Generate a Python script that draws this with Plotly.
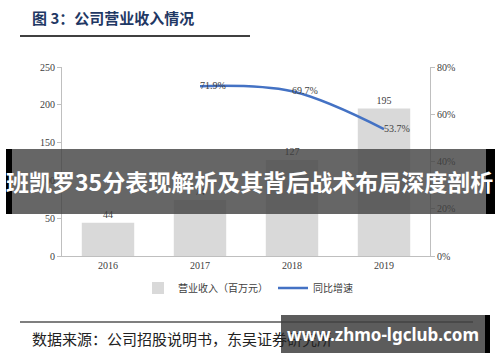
import plotly.graph_objects as go

years = ["2016", "2017", "2018", "2019"]
revenue = [44, 74, 127, 195]
growth_years = ["2017", "2018", "2019"]
growth = [71.9, 69.7, 53.7]
rev_labels = ["44", "74", "127", "195"]
growth_labels = ["71.9%", "69.7%", "53.7%"]
y_ticks = [0, 50, 100, 150, 200, 250]
y2_ticks = [0, 20, 40, 60, 80]

W, H = 500, 362
L, R, T, B = 62, 70, 67, 106
PW, PH = W - L - R, H - T - B

def px(x):
    return (x - L) / PW

def py(y):
    return (H - B - y) / PH

serif = "Liberation Serif"
cjk = "Noto Sans CJK SC"

fig = go.Figure()
fig.add_trace(go.Bar(
    x=years, y=revenue, name="营业收入（百万元）",
    marker=dict(color="#D9D9D9", line=dict(width=0)),
    text=rev_labels, textposition="outside", cliponaxis=False,
    textfont=dict(family=serif, size=10, color="#404040"),
))
fig.add_trace(go.Scatter(
    x=growth_years, y=growth, name="同比增速", yaxis="y2",
    mode="lines+text", line=dict(color="#4472C4", width=2.5, shape="spline", smoothing=1.0),
    text=growth_labels, textposition="middle right", cliponaxis=False,
    textfont=dict(family=serif, size=10, color="#404040"),
))

fig.update_layout(
    width=W, height=H, margin=dict(l=L, r=R, t=T, b=B),
    paper_bgcolor="white", plot_bgcolor="white",
    bargap=0.43, showlegend=True,
    legend=dict(orientation="h", x=px(248), xanchor="center", y=py(288), yanchor="middle",
                font=dict(family=cjk, size=10, color="#404040"), itemwidth=30),
    xaxis=dict(showgrid=False, showline=True, linecolor="#BFBFBF", linewidth=1,
               ticks="", tickfont=dict(family=serif, size=10, color="#404040")),
    yaxis=dict(range=[0, 250], tickvals=y_ticks, showgrid=False, showline=True,
               linecolor="#BFBFBF", linewidth=1, ticks="outside", ticklen=4,
               tickcolor="#BFBFBF", zeroline=False,
               tickfont=dict(family=serif, size=10, color="#404040")),
    yaxis2=dict(range=[0, 80], tickvals=y2_ticks, ticktext=[f"{v}%" for v in y2_ticks],
                overlaying="y", side="right", showgrid=False, showline=True,
                linecolor="#BFBFBF", linewidth=1, ticks="outside", ticklen=4,
                tickcolor="#BFBFBF", zeroline=False,
                tickfont=dict(family=serif, size=10, color="#404040")),
)

shapes = [
    dict(type="line", xref="paper", yref="paper", x0=px(20), x1=px(250), y0=py(36), y1=py(36),
         line=dict(color="black", width=1.5)),
    dict(type="line", xref="paper", yref="paper", x0=px(20), x1=px(473), y0=py(322), y1=py(322),
         line=dict(color="black", width=1.2)),
    # banner overlay
    dict(type="rect", xref="paper", yref="paper", x0=px(6), x1=px(495), y0=py(149), y1=py(214),
         fillcolor="rgba(64,64,64,0.8)", line=dict(width=0), layer="above"),
    dict(type="rect", xref="paper", yref="paper", x0=px(6), x1=px(12), y0=py(149), y1=py(214),
         fillcolor="black", line=dict(width=0), layer="above"),
    dict(type="rect", xref="paper", yref="paper", x0=px(486), x1=px(495), y0=py(149), y1=py(214),
         fillcolor="black", line=dict(width=0), layer="above"),
    # watermark box
    dict(type="rect", xref="paper", yref="paper", x0=px(281), x1=px(485), y0=py(315), y1=py(353),
         fillcolor="rgba(64,64,64,0.85)", line=dict(width=0), layer="above"),
    dict(type="rect", xref="paper", yref="paper", x0=px(485), x1=px(490), y0=py(315), y1=py(353),
         fillcolor="black", line=dict(width=0), layer="above"),
]
fig.update_layout(shapes=shapes)

annotations = [
    dict(text="<b>图 3：公司营业收入情况</b>", x=px(30), y=py(18), xanchor="left", yanchor="middle",
         font=dict(family=cjk, size=15, color="#1F3864")),
    dict(text="数据来源：公司招股说明书，东吴证券研究所", x=px(30), y=py(338), xanchor="left",
         yanchor="middle", font=dict(family=cjk, size=15, color="#222222")),
    dict(text="<b>班凯罗35分表现解析及其背后战术布局深度剖析</b>", x=px(249), y=py(181),
         xanchor="center", yanchor="middle", font=dict(family=cjk, size=23, color="white")),
    dict(text="<b>www.zhmo-lgclub.com</b>", x=px(383), y=py(334), xanchor="center",
         yanchor="middle", font=dict(family="Noto Sans", size=17, color="white")),
]
for a in annotations:
    a.update(xref="paper", yref="paper", showarrow=False)
fig.update_layout(annotations=annotations)

fig.write_html("out.html", config={"displayModeBar": False},
               post_script="document.body.style.margin='0';")
